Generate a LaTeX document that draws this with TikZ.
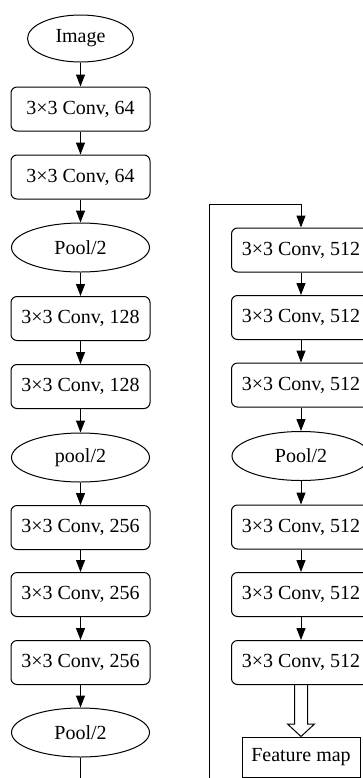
\documentclass[tikz,border=0pt]{standalone}
\usepackage{fontspec}
\setmainfont{Liberation Serif}
\usetikzlibrary{arrows.meta,positioning,shapes.geometric,calc}

\tikzset{
  conv/.style={draw, rounded corners=3pt, minimum width=69.5pt, minimum height=22pt, inner sep=0pt},
  pool/.style={draw, ellipse, minimum width=69pt, minimum height=24.5pt, inner sep=0pt},
  flow/.style={-{Triangle[length=6pt, width=4.5pt]}},
}

\begin{document}
\begin{tikzpicture}[x=0.5pt, y=-0.5pt, line width=0.5pt, font=\fontsize{10}{12}\selectfont]
        \clip (0,0) rectangle (363,778);
        % Left column
        \node[pool, minimum width=53pt, minimum height=23.5pt] (img) at (80.5, 38.5) {Image};
        \node[conv] (c1) at (80.5, 109) {3×3 Conv, 64};
        \node[conv] (c2) at (80.5, 177) {3×3 Conv, 64};
        \node[pool] (p1) at (80.5, 247.5) {Pool/2};
        \node[conv] (c3) at (80.5, 318.5) {3×3 Conv, 128};
        \node[conv] (c4) at (80.5, 386.5) {3×3 Conv, 128};
        \node[pool] (p2) at (80.5, 457.5) {pool/2};
        \node[conv] (c5) at (80.5, 527.5) {3×3 Conv, 256};
        \node[conv] (c6) at (80.5, 594.5) {3×3 Conv, 256};
        \node[conv] (c7) at (80.5, 662.5) {3×3 Conv, 256};
        \node[pool] (p3) at (80.5, 732.5) {Pool/2};
        % Right column
        \node[conv] (c8) at (301, 250) {3×3 Conv, 512};
        \node[conv] (c9) at (301, 317.5) {3×3 Conv, 512};
        \node[conv] (c10) at (301, 385) {3×3 Conv, 512};
        \node[pool] (p4) at (301, 456) {Pool/2};
        \node[conv] (c11) at (301, 527) {3×3 Conv, 512};
        \node[conv] (c12) at (301, 594.5) {3×3 Conv, 512};
        \node[conv] (c13) at (301, 662.5) {3×3 Conv, 512};
        \node[draw, minimum width=59pt, minimum height=20pt, inner sep=0pt] (fmap) at (301, 757) {Feature map};
        % Arrows
        \foreach \a/\b in {img/c1, c1/c2, c2/p1, p1/c3, c3/c4, c4/p2, p2/c5, c5/c6, c6/c7, c7/p3,
                           c8/c9, c9/c10, c10/p4, p4/c11, c11/c12, c12/c13}
          \draw[flow] (\a) -- (\b);
        % Link between the columns
        \coordinate (turnL) at (80.5, 820);
        \coordinate (turnR) at (209, 820);
        \coordinate (topR) at (209, 204);
        \draw[flow] (p3) -- (turnL) -- (turnR) -- (topR) -| (c8);
        % Hollow arrow
        \draw ($(c13.south)+(-6.5,0)$) -- ++(0,39) -- ++(-7,0) -- (fmap.north)
              -- ($(c13.south)+(13.5,39)$) -- ++(-7,0) -- ($(c13.south)+(6.5,0)$);
      \end{tikzpicture}
\end{document}
